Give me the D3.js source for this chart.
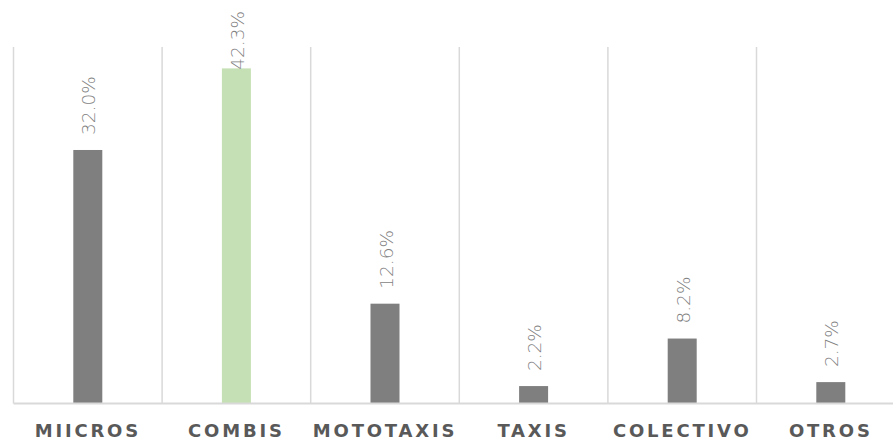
<!DOCTYPE html>
<html>
<head>
<meta charset="utf-8">
<script src="https://cdn.jsdelivr.net/npm/d3@7"></script>
<style>
  body { margin: 0; background: #fff; }
  svg { display: block; }
</style>
</head>
<body>
<div id="chart"></div>
<script>
// data
var categories = ["MIICROS", "COMBIS", "MOTOTAXIS", "TAXIS", "COLECTIVO", "OTROS"];
var shares = [32.0, 42.3, 12.6, 2.2, 8.2, 2.7];
var highlight = "COMBIS";

var svgWidth = 893;
var svgHeight = 444;

var svg = d3.select("#chart")
  .append("svg")
  .attr("width", svgWidth)
  .attr("height", svgHeight);

// plot area runs past the right edge, like the original
var x = d3.scaleBand()
  .domain(categories)
  .range([13.5, 13.5 + 6 * 148.6])
  .padding(0);

var y = d3.scaleLinear()
  .domain([0, 45])
  .range([403.5, 47]);

var barWidth = 29;

// vertical separators between categories
svg.append("g")
  .selectAll("line")
  .data(categories)
  .enter()
  .append("line")
  .attr("x1", d => x(d))
  .attr("x2", d => x(d))
  .attr("y1", y(45))
  .attr("y2", y(0))
  .attr("stroke", "#d9d9d9")
  .attr("stroke-width", 1.5);

// bars
svg.append("g")
  .selectAll("rect")
  .data(categories)
  .enter()
  .append("rect")
  .attr("x", d => x(d) + x.bandwidth() / 2 - barWidth / 2)
  .attr("y", (d, i) => y(shares[i]))
  .attr("width", barWidth)
  .attr("height", (d, i) => y(0) - y(shares[i]))
  .attr("fill", d => d === highlight ? "#c5e0b4" : "#7f7f7f");

// baseline
svg.append("line")
  .attr("x1", x.range()[0])
  .attr("x2", x.range()[1])
  .attr("y1", y(0))
  .attr("y2", y(0))
  .attr("stroke", "#d9d9d9")
  .attr("stroke-width", 2);

// category axis
var xAxis = svg.append("g")
  .attr("transform", `translate(0, ${y(0)})`)
  .call(d3.axisBottom(x).tickSize(0).tickPadding(33.5));

xAxis.select(".domain").remove();
xAxis.selectAll("text")
  .attr("fill", "#595959")
  .attr("dy", 0)
  .attr("font-family", "'DejaVu Sans', sans-serif")
  .attr("font-size", "18px")
  .attr("font-weight", "bold")
  .style("letter-spacing", "2.8px");

// rotated value labels
var labels = svg.append("g")
  .selectAll("text")
  .data(categories)
  .enter()
  .append("text")
  .attr("font-family", "'DejaVu Sans', sans-serif")
  .attr("font-size", "18.5px")
  .attr("font-weight", 200)
  .attr("fill", "#7f7f7f")
  .attr("text-anchor", "start")
  .attr("dy", "0.36em")
  .text((d, i) => shares[i].toFixed(1) + "%");

labels.each(function(d, i) {
  var len = this.getComputedTextLength();
  var start = y(shares[i]) - 15;
  if (start - len < 11) start = 11 + len;
  var cx = x(d) + x.bandwidth() / 2 + 1;
  d3.select(this)
    .attr("transform", `translate(${cx}, ${start}) rotate(-90)`);
});
</script>
</body>
</html>
